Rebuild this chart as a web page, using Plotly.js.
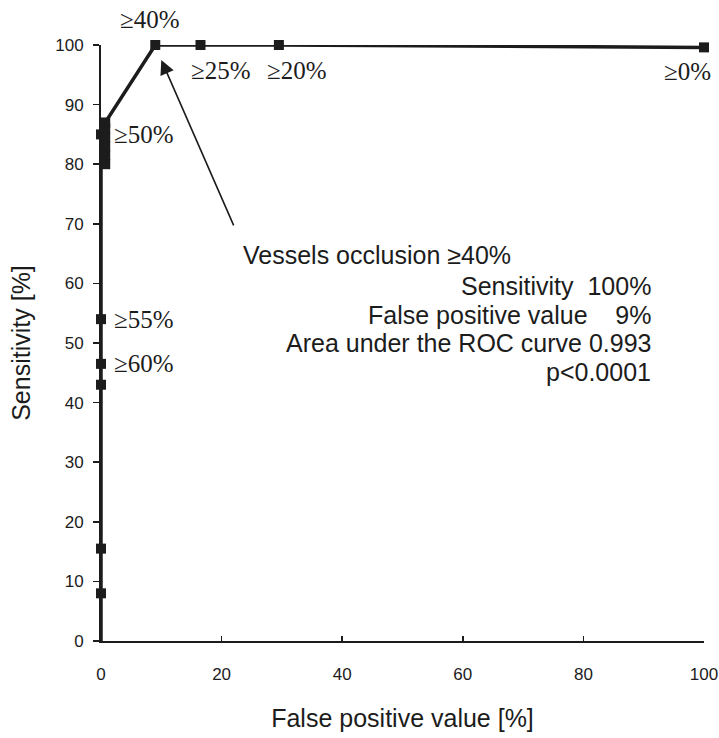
<!DOCTYPE html>
<html>
<head>
<meta charset="utf-8">
<script src="https://cdn.plot.ly/plotly-3.0.1.min.js"></script>
<style>html,body{margin:0;padding:0;background:#fff;}</style>
</head>
<body>
<div id="chart" style="width:719px;height:738px;"></div>
<script>
// ROC curve points (false positive value %, sensitivity %)
const falsePositive = [0, 0, 0, 0, 0, 0, 0, 0.7, 0.7, 0.7, 0.7, 0.7, 0.7, 9, 16.5, 29.5, 100];
const sensitivity   = [0, 8, 15.5, 43, 46.5, 54, 85, 80, 81.5, 83, 84.5, 86, 87, 100, 100, 100, 99.6];

// cut-off labels
const cutLabels = ["≥40%", "≥25%", "≥20%", "≥0%", "≥50%", "≥55%", "≥60%"];
const cutX      = [8.1, 19.9, 32.5, 97.3, 7.2, 7.2, 7.2];
const cutY      = [104.2, 95.8, 95.8, 95.5, 85.0, 54.0, 46.5];

const xTicks = [0, 20, 40, 60, 80, 100];
const yTicks = [0, 10, 20, 30, 40, 50, 60, 70, 80, 90, 100];

const infoTitle = "Vessels occlusion ≥40%";
const infoLines = ["Sensitivity  100%", "False positive value    9%", "Area under the ROC curve 0.993", "p<0.0001"];

const ink = "#1c1c1c";

const lineTrace = {
  x: falsePositive, y: sensitivity, type: "scatter", mode: "lines",
  line: {color: ink, width: 3.5}, cliponaxis: false, hoverinfo: "skip"
};
const markerTrace = {
  x: falsePositive.slice(1), y: sensitivity.slice(1), type: "scatter", mode: "markers",
  marker: {symbol: "square", size: 10, color: ink, opacity: 1, line: {width: 0}},
  cliponaxis: false, hoverinfo: "skip"
};

// map data coords to paper coords (axes span exactly 0..100)
const px = v => v / 100, py = v => v / 100;

const annotations = [];
cutLabels.forEach((t, i) => {
  annotations.push({x: px(cutX[i]), y: py(cutY[i]), xref: "paper", yref: "paper", text: t, showarrow: false,
    xanchor: "center", yanchor: "middle",
    font: {family: "Liberation Serif, Times New Roman, serif", size: 25, color: ink}});
});
// arrow pointing to the ≥40% cut-off
annotations.push({x: 10.0, y: 97.5, xref: "x", yref: "y", text: "", showarrow: true,
  ax: 73, ay: 167, arrowhead: 2, arrowsize: 1.8, arrowwidth: 1.6, arrowcolor: ink, standoff: 0});
// info block
annotations.push({x: (241 - 101) / 603, y: (641 - 255) / 596, xref: "paper", yref: "paper",
  text: infoTitle, showarrow: false, xanchor: "left", yanchor: "middle",
  font: {family: "Liberation Sans, Arial, sans-serif", size: 25, color: ink}});
const lineY = [286, 315, 343, 372];
infoLines.forEach((t, i) => {
  annotations.push({x: (653 - 101) / 603, y: (641 - lineY[i]) / 596, xref: "paper", yref: "paper",
    text: t, showarrow: false, xanchor: "right", yanchor: "middle",
    font: {family: "Liberation Sans, Arial, sans-serif", size: 25, color: ink}});
});

const tickFont = {family: "Liberation Sans, Arial, sans-serif", size: 17, color: ink};
const titleFont = {family: "Liberation Sans, Arial, sans-serif", size: 25, color: ink};

const layout = {
  width: 719, height: 738,
  margin: {l: 101, r: 15, t: 45, b: 97},
  paper_bgcolor: "#fff", plot_bgcolor: "#fff",
  showlegend: false,
  xaxis: {
    range: [0, 100], tickvals: xTicks, ticktext: xTicks.map(String),
    ticks: "inside", ticklen: 5, tickwidth: 1.5, tickcolor: ink,
    showline: true, linecolor: ink, linewidth: 2, showgrid: false, zeroline: false,
    tickfont: tickFont, ticklabelstandoff: 17,
    title: {text: "False positive value [%]", font: titleFont, standoff: 26}
  },
  yaxis: {
    range: [0, 100], tickvals: yTicks, ticktext: yTicks.map(String),
    ticks: "outside", ticklen: 6, tickwidth: 1.5, tickcolor: ink,
    showline: true, linecolor: ink, linewidth: 2, showgrid: false, zeroline: false,
    tickfont: tickFont, ticklabelstandoff: 6,
    title: {text: "Sensitivity [%]", font: titleFont, standoff: 17}
  },
  annotations: annotations
};

Plotly.newPlot("chart", [lineTrace, markerTrace], layout, {displayModeBar: false, staticPlot: true});
</script>
</body>
</html>
